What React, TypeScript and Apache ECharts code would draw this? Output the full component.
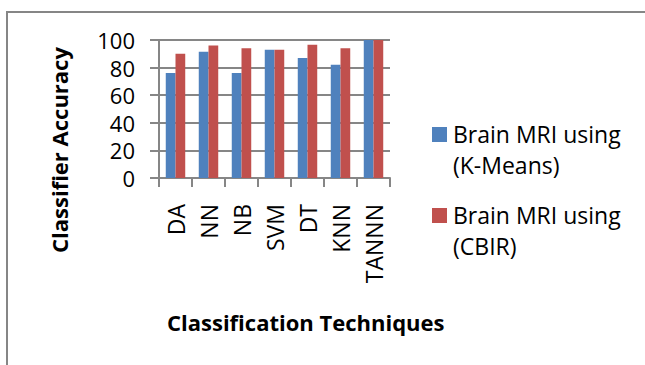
import React, { useEffect, useRef } from "react";
import * as echarts from "echarts";

const categories = ["DA", "NN", "NB", "SVM", "DT", "KNN", "TANNN"];
const kMeansAccuracy = [76, 91.5, 76, 93, 87, 82, 100];
const cbirAccuracy = [90, 96, 94, 93, 96.5, 94, 100];
const seriesNames = ["Brain MRI using\n(K-Means)", "Brain MRI using\n(CBIR)"];
const seriesColors = ["#4F81BD", "#C0504D"];
const yTicks = { min: 0, max: 100, interval: 20 };

const FONT = "'Open Sans', 'Liberation Sans', sans-serif";
const AXIS_GRAY = "#868686";

export default function App() {
  const ref = useRef<HTMLDivElement>(null);

  useEffect(() => {
    if (!ref.current) return;
    const chart = echarts.init(ref.current, null, { renderer: "svg" });

    // Legend swatches and two-line labels, one entry per series
    const legendItems: any[] = [];
    const legendTops = [127, 208];
    seriesNames.forEach((name, i) => {
      legendItems.push({
        type: "rect",
        shape: { x: 432, y: legendTops[i], width: 15, height: 15 },
        style: { fill: seriesColors[i] },
      });
      legendItems.push({
        type: "text",
        x: 453,
        y: legendTops[i] - 9,
        style: {
          text: name,
          font: `23px ${FONT}`,
          fill: "#000",
          lineHeight: 31,
          textVerticalAlign: "top",
        },
      });
    });

    chart.setOption({
      animation: false,
      backgroundColor: "#fff",
      grid: { left: 159, right: 255, top: 40, bottom: 187, containLabel: false },
      xAxis: {
        type: "category",
        data: categories,
        axisLine: { show: true, lineStyle: { color: AXIS_GRAY, width: 2 } },
        axisTick: { show: true, length: 9, lineStyle: { color: AXIS_GRAY, width: 2 } },
        axisLabel: {
          rotate: 90,
          margin: 26,
          fontSize: 23,
          fontFamily: FONT,
          color: "#000",
          interval: 0,
        },
        splitLine: { show: false },
      },
      yAxis: {
        type: "value",
        min: yTicks.min,
        max: yTicks.max,
        interval: yTicks.interval,
        axisLine: { show: true, lineStyle: { color: AXIS_GRAY, width: 2 } },
        axisTick: { show: true, length: 9, lineStyle: { color: AXIS_GRAY, width: 2 } },
        axisLabel: {
          margin: 24,
          fontSize: 22,
          lineHeight: 22,
          fontFamily: FONT,
          color: "#000",
        },
        splitLine: { show: true, lineStyle: { color: AXIS_GRAY, width: 2 } },
      },
      series: [
        {
          name: seriesNames[0],
          type: "bar",
          data: kMeansAccuracy,
          itemStyle: { color: seriesColors[0] },
          barGap: "0%",
          barCategoryGap: "41%",
        },
        {
          name: seriesNames[1],
          type: "bar",
          data: cbirAccuracy,
          itemStyle: { color: seriesColors[1] },
          barGap: "0%",
          barCategoryGap: "41%",
        },
      ],
      graphic: [
        {
          type: "rect",
          shape: { x: 7, y: 12, width: 700, height: 400 },
          style: { fill: "none", stroke: AXIS_GRAY, lineWidth: 2 },
          silent: true,
        },
        {
          type: "text",
          x: 59,
          y: 150,
          rotation: Math.PI / 2,
          style: {
            text: "Classifier Accuracy",
            font: `bold 22px ${FONT}`,
            fill: "#000",
            textAlign: "center",
            textVerticalAlign: "middle",
          },
        },
        {
          type: "text",
          x: 167,
          y: 322,
          style: {
            text: "Classification Techniques",
            font: `bold 22px ${FONT}`,
            fill: "#000",
            textAlign: "left",
            textVerticalAlign: "middle",
          },
        },
        ...legendItems,
      ],
    });

    return () => chart.dispose();
  }, []);

  return (
    <div
      ref={ref}
      style={{ position: "fixed", left: 0, top: 0, width: 645, height: 365 }}
    />
  );
}
